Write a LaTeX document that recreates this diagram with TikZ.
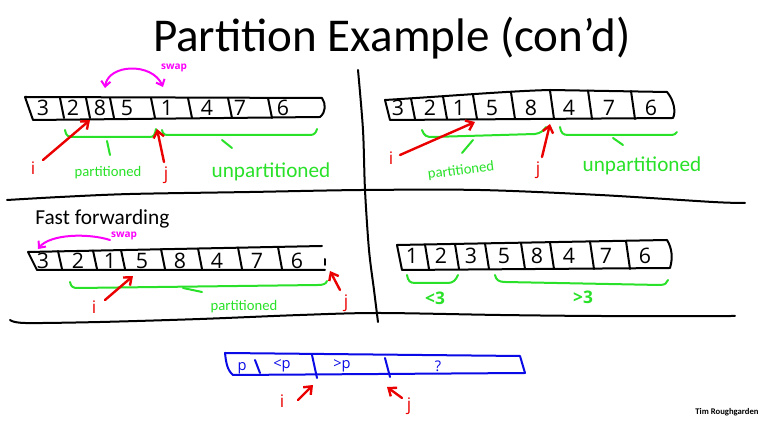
\documentclass[tikz,border=0pt]{standalone}
\usepackage{fontspec}
\setmainfont{Carlito}
\newfontfamily\handfont{Open Sans}
\usetikzlibrary{arrows.meta}
\definecolor{penred}{RGB}{235,0,0}
\definecolor{pengreen}{RGB}{40,225,40}
\definecolor{penmag}{RGB}{250,0,250}
\definecolor{penblue}{RGB}{10,10,230}
\begin{document}
\begin{tikzpicture}[x=0.75pt,y=-0.75pt,
  ink/.style={line width=1.5pt,line cap=round,line join=round},
  digit/.style={font=\handfont\fontsize{16}{16}\selectfont,inner sep=0pt},
  bluedigit/.style={text=penblue,font=\handfont\fontsize{11}{11}\selectfont,inner sep=0pt},
  brace/.style={draw=pengreen,line width=1.5pt,line cap=round,line join=round},
  ptr/.style={draw=penred,line width=1.8pt,line cap=round,-{Straight Barb[length=5pt,width=8pt]}},
  ptrlab/.style={text=penred,font=\handfont\fontsize{13}{13}\selectfont,inner sep=0pt},
  swaparc/.style={draw=penmag,line width=1.5pt,line cap=round},
  swaplab/.style={text=penmag,font=\handfont\bfseries\fontsize{7.5}{8}\selectfont,inner sep=0pt},
  smalllab/.style={text=pengreen,font=\fontsize{11}{11}\selectfont,inner sep=0pt},
  biglab/.style={text=pengreen,font=\fontsize{15.9}{16}\selectfont,inner sep=0pt},
  cmplab/.style={text=pengreen,font=\handfont\bfseries\fontsize{13}{13}\selectfont,inner sep=0pt},
]
\useasboundingbox[fill=white] (0,0) rectangle (769,423);

% ---- title ----
\node[anchor=base,inner sep=0pt,font=\fontsize{35.3}{36}\selectfont] (title) at (392,52) {Partition Example (con’d)};

% ---- grid of four panels ----
\draw[ink] plot[smooth] coordinates {(7,200) (60,197) (130,194) (250,192) (362,190) (480,190) (600,195) (713,202) (745,203)};
\draw[ink] plot[smooth] coordinates {(358,70) (363,130) (365,190) (369,250) (374,290) (378,322)};
\draw[ink] plot[smooth] coordinates {(10,320) (25,323) (100,322) (200,319) (300,315) (378,313) (500,315) (600,316) (735,316)};

% ================= panel 1: before the swap =================
\draw[ink] (25,97) -- (322,98) .. controls (326,104) and (326,112) .. (320,117) -- (33,120) -- cycle;
\foreach \x in {62,88,112,153,190,230,270}
  \draw[ink] (\x-2,98) -- (\x+2,118);
\foreach \x/\d in {43/3,73/2,100/8,127/5,167/1,207/4,240/7,283/6}
  \node[digit] (a\d) at (\x,108) {\d};

\coordinate (sw1a) at (105,88);
\coordinate (sw1b) at (163,87);
\draw[swaparc,{Straight Barb[length=4pt,width=7pt]}-{Straight Barb[length=4pt,width=7pt]}]
  (sw1a) .. controls (108,64) and (152,62) .. (sw1b);
\node[swaplab] (swp1) at (174,68) {swap};

\draw[brace] (65,130) .. controls (66,136) and (68,137) .. (74,137) -- (150,137) .. controls (154,137) and (155,134) .. (156,129);
\draw[brace] (107,141) -- (110,155);
\draw[brace] (162,130) .. controls (163,135) and (165,135) .. (170,135) -- (310,135) .. controls (314,135) and (316,133) .. (317,129);
\draw[brace] (222,140) -- (232,148);
\node[smalllab] (part1) at (108,173) {partitioned};
\node[biglab] (unp1) at (271,172) {unpartitioned};

\node[ptrlab] (i1) at (33,168) {i};
\node[ptrlab] (j1) at (166,175) {j};
\coordinate (i1s) at (43,160);  \coordinate (i1t) at (90,120);
\coordinate (j1s) at (164,162); \coordinate (j1t) at (157,129);
\draw[ptr] (i1s) -- (i1t);
\draw[ptr] (j1s) -- (j1t);

% ================= panel 2: after the swap =================
\draw[ink] (385,100) .. controls (450,96) and (510,91) .. (550,90) -- (667,92) .. controls (674,100) and (676,112) .. (673,118) -- (390,120) -- cycle;
\foreach \x/\t in {413/98.5,445/96.5,475/95,513/92.5,552/90.5,590/90.5,633/91}
  \draw[ink] (\x-2,\t) -- (\x+2,119);
\foreach \x/\d in {398/3,430/2,459/1,492/5,531/8,569/4,609/7,651/6}
  \node[digit] (b\d) at (\x,108) {\d};

\draw[brace] (422,130) .. controls (424,136) and (427,137) .. (432,137) -- (535,134) .. controls (541,133) and (543,131) .. (546,127);
\draw[brace] (473,140) -- (462,153);
\draw[brace] (560,127) .. controls (561,133) and (563,135) .. (568,135) -- (670,135) .. controls (674,135) and (676,134) .. (677,132);
\draw[brace] (613,138) -- (623,145);
\node[smalllab,rotate=7] (part2) at (461,171) {partitioned};
\node[biglab] (unp2) at (642,166) {unpartitioned};

\node[ptrlab] (i2) at (391,158) {i};
\node[ptrlab] (j2) at (538,170) {j};
\coordinate (i2s) at (400,155); \coordinate (i2t) at (475,122);
\coordinate (j2s) at (542,157); \coordinate (j2t) at (550,124);
\draw[ptr] (i2s) -- (i2t);
\draw[ptr] (j2s) -- (j2t);

% ================= panel 3: fast forwarding =================
\node[anchor=base west,inner sep=0pt,font=\fontsize{16}{16}\selectfont] (ff) at (35,225) {Fast forwarding};
\draw[ink] (322,246) -- (28,252) -- (37,270) -- (325,270);
\draw[ink] (325,259) -- (325,265);
\foreach \x/\t in {60/251,95/250.5,123/250,163/249,200/248.5,240/247.5,280/247}
  \draw[ink] (\x-2,\t) -- (\x+2,269);
\foreach \x/\d in {43/3,78/2,110/1,142/5,180/8,217/4,257/7,297/6}
  \node[digit] (c\d) at (\x,261) {\d};

\coordinate (sw3a) at (110,240);
\coordinate (sw3b) at (38,249);
\draw[swaparc,-{Straight Barb[length=4pt,width=7pt]}]
  (sw3a) .. controls (88,233) and (50,234) .. (sw3b);
\node[swaplab] (swp3) at (124,236) {swap};

\draw[brace] (70,282) .. controls (71,287) and (73,288) .. (78,288) -- (318,285) .. controls (323,285) and (326,284) .. (327,281);
\draw[brace] (183,288) -- (202,292);
\node[smalllab] (part3) at (244,307) {partitioned};

\node[ptrlab] (i3) at (94,307) {i};
\node[ptrlab] (j3) at (346,303) {j};
\coordinate (i3s) at (105,300); \coordinate (i3t) at (133,276);
\coordinate (j3s) at (340,290); \coordinate (j3t) at (330,271);
\draw[ptr] (i3s) -- (i3t);
\draw[ptr] (j3s) -- (j3t);

% ================= panel 4: pivot placed =================
\draw[ink] (397,245) -- (667,240) .. controls (672,248) and (673,258) .. (670,268) -- (402,270) -- cycle;
\foreach \x/\t in {427/244.5,457/244,487/243.5,523/243,552/242.5,592/241.5,628/241}
  \draw[ink] (\x-2,\t) -- (\x+2,269);
\foreach \x/\d in {412/1,441/2,471/3,504/5,537/8,569/4,606/7,645/6}
  \node[digit] (d\d) at (\x,256) {\d};

\draw[brace] (407,275) .. controls (408,281) and (410,283) .. (415,283) -- (448,283) .. controls (453,283) and (456,280) .. (458,275);
\draw[brace] (495,275) .. controls (496,280) and (499,282) .. (505,282) -- (660,285) .. controls (665,285) and (667,283) .. (668,280);
\node[cmplab] (lt) at (435,298) {<3};
\node[cmplab] (gt) at (583,297) {>3};

% ================= invariant of the array =================
\draw[ink,draw=penblue] (225,353) -- (520,356) -- (525,373) -- (233,375) .. controls (227,370) and (226,362) .. cycle;
\draw[ink,draw=penblue] (255,360) -- (260,373);
\draw[ink,draw=penblue] (312,355) -- (317,378);
\draw[ink,draw=penblue] (385,358) -- (390,377);
\node[bluedigit] (pv) at (242,368) {p};
\node[bluedigit] (lp) at (282,366) {<p};
\node[bluedigit] (gp) at (342,366) {>p};
\node[bluedigit] (unk) at (438,366) {?};

\node[ptrlab] (i4) at (282,401) {i};
\node[ptrlab] (j4) at (409,406) {j};
\coordinate (i4s) at (298,400); \coordinate (i4t) at (313,385);
\coordinate (j4s) at (402,398); \coordinate (j4t) at (387,387);
\draw[ptr] (i4s) -- (i4t);
\draw[ptr] (j4s) -- (j4t);

\node[inner sep=0pt,font=\bfseries\fontsize{6.5}{7}\selectfont] (auth) at (727,412) {Tim Roughgarden};
\end{tikzpicture}
\end{document}
